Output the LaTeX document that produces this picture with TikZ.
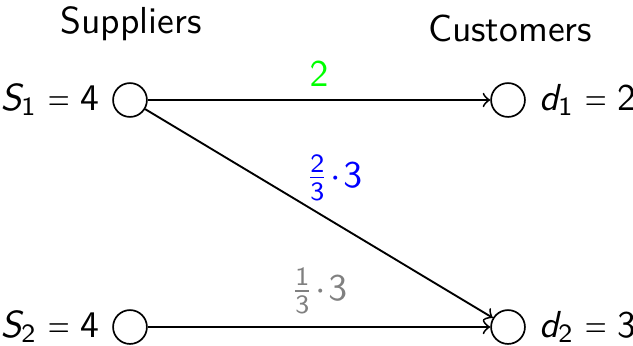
\documentclass[tikz,border=0pt]{standalone}
\usetikzlibrary{arrows}

% sans serif math letters and digits
\DeclareSymbolFont{sfup}{OT1}{cmss}{m}{n}
\DeclareSymbolFont{sfit}{OT1}{cmss}{m}{sl}
\DeclareMathSymbol{S}{\mathalpha}{sfit}{`S}
\DeclareMathSymbol{d}{\mathalpha}{sfit}{`d}
\DeclareMathSymbol{1}{\mathalpha}{sfup}{`1}
\DeclareMathSymbol{2}{\mathalpha}{sfup}{`2}
\DeclareMathSymbol{3}{\mathalpha}{sfup}{`3}
\DeclareMathSymbol{4}{\mathalpha}{sfup}{`4}
\newcommand{\sfeq}{\mathrel{\scalebox{0.75}[1]{$=$}}}

\tikzset{
  vertex/.style={draw, circle, minimum size=9pt, inner sep=0pt, line width=0.45pt},
  flow/.style={->, line width=0.5pt}
}

\begin{document}
\begin{tikzpicture}[x=0.266pt,y=-0.266pt,font=\sffamily]
			\useasboundingbox (0,0) rectangle (633,345);
			\node (supp) at (131,24) {Suppliers};
			\node (cust) at (510,28) {Customers};
			\node[vertex, label=left:{$S_1 \sfeq 4$}] (s1) at (130,100) {};
			\node[vertex, label=left:{$S_2 \sfeq 4$}] (s2) at (130,327) {};
			\node[vertex, label=right:{$d_1 \sfeq 2$}] (d1) at (508,100) {};
			\node[vertex, label=right:{$d_2 \sfeq 3$}] (d2) at (508,327) {};
			\draw[flow](s1) -- node[midway, above, text=green]{$2$} (d1);
			\draw[flow](s1) -- node[midway, above, xshift=4pt, text=blue]{$\frac{2}{3}\!\cdot\! 3$} (d2);
			\draw[flow](s2) -- node[midway, above, text=gray]{$\frac{1}{3}\!\cdot\! 3$} (d2);
		\end{tikzpicture}
\end{document}
